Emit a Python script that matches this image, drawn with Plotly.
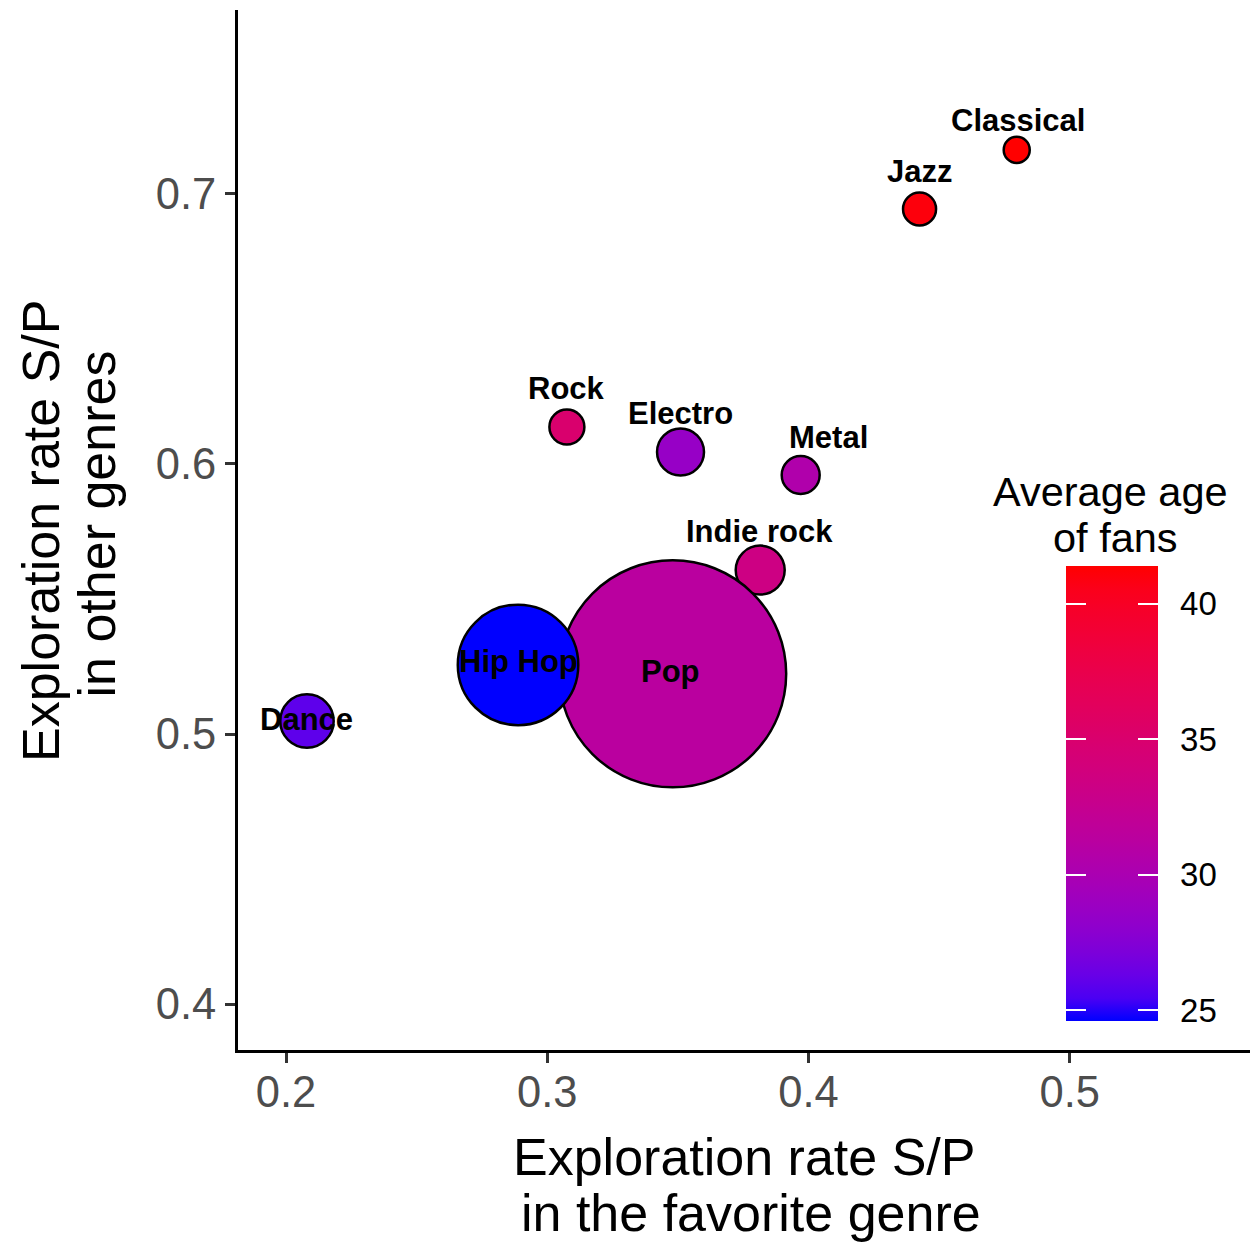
import plotly.graph_objects as go

# ---------------- data ----------------
genres = ["Classical", "Jazz", "Rock", "Electro", "Metal", "Indie rock", "Pop", "Hip Hop", "Dance"]
explore_fav = [0.4797, 0.4425, 0.3075, 0.3510, 0.3970, 0.3815, 0.3480, 0.2888, 0.2080]
explore_other = [0.7163, 0.6944, 0.6137, 0.6044, 0.5959, 0.5607, 0.5223, 0.5256, 0.5048]
avg_age = [41.4, 41.0, 35.0, 28.6, 30.5, 33.4, 31.3, 24.6, 26.0]
fan_share = [0.87, 1.40, 1.57, 2.83, 1.85, 3.08, 66.1, 18.63, 3.67]

x_ticks = [0.2, 0.3, 0.4, 0.5]
y_ticks = [0.4, 0.5, 0.6, 0.7]
age_ticks = [25, 30, 35, 40]

# ---------------- styling helpers ----------------
W, H = 1253, 1243
ML, MR, MT, MB = 238, 3, 10, 193
PW, PH = W - ML - MR, H - MT - MB
FONT = "Liberation Sans, Arial, Helvetica, sans-serif"


def _srgb_to_lin(c):
    c = c / 255.0
    return c / 12.92 if c <= 0.04045 else ((c + 0.055) / 1.055) ** 2.4


def _lin_to_srgb(c):
    c = max(0.0, min(1.0, c))
    v = 12.92 * c if c <= 0.0031308 else 1.055 * c ** (1 / 2.4) - 0.055
    return int(round(max(0, min(1, v)) * 255))


def rgb_to_lab(rgb):
    r, g, b = [_srgb_to_lin(v) for v in rgb]
    X = 0.4124 * r + 0.3576 * g + 0.1805 * b
    Y = 0.2126 * r + 0.7152 * g + 0.0722 * b
    Z = 0.0193 * r + 0.1192 * g + 0.9505 * b
    Xn, Yn, Zn = 0.95047, 1.0, 1.08883

    def f(t):
        return t ** (1 / 3) if t > 0.008856 else 7.787 * t + 16 / 116

    fx, fy, fz = f(X / Xn), f(Y / Yn), f(Z / Zn)
    return (116 * fy - 16, 500 * (fx - fy), 200 * (fy - fz))


def lab_to_rgb(lab):
    L, a, b = lab
    fy = (L + 16) / 116
    fx = fy + a / 500
    fz = fy - b / 200

    def finv(t):
        return t ** 3 if t ** 3 > 0.008856 else (t - 16 / 116) / 7.787

    X, Y, Z = 0.95047 * finv(fx), finv(fy), 1.08883 * finv(fz)
    r = 3.2406 * X - 1.5372 * Y - 0.4986 * Z
    g = -0.9689 * X + 1.8758 * Y + 0.0415 * Z
    bb = 0.0557 * X - 0.2040 * Y + 1.0570 * Z
    return (_lin_to_srgb(r), _lin_to_srgb(g), _lin_to_srgb(bb))


lab_lo = rgb_to_lab((0, 0, 255))
lab_hi = rgb_to_lab((255, 0, 0))
n_stops = 21
colorscale = []
for i in range(n_stops):
    t = i / (n_stops - 1)
    lab = tuple(lo + (hi - lo) * t for lo, hi in zip(lab_lo, lab_hi))
    r, g, b = lab_to_rgb(lab)
    colorscale.append([t, f"rgb({r},{g},{b})"])
clear_scale = [[0, "rgba(0,0,0,0)"], [1, "rgba(0,0,0,0)"]]

cmin, cmax = min(avg_age), max(avg_age)

max_d = 227.0
sizeref = 2.0 * max(fan_share) / (max_d ** 2)


def px_x(p):
    return (p - ML) / PW


def px_y(p):
    return (MT + PH - p) / PH


# colour bar geometry (pixels)
CB_LEFT, CB_THICK, CB_TOP, CB_LEN = 1066, 92, 566, 455
TICK_LEN = 20
cb_y = px_y(CB_TOP + CB_LEN / 2)


def colorbar(x_left, thick, show_labels, ticks, ticklen, tickcolor):
    return dict(
        thickness=thick, thicknessmode="pixels",
        len=CB_LEN, lenmode="pixels",
        x=px_x(x_left), xanchor="left",
        y=cb_y, yanchor="middle",
        xpad=0, ypad=0, outlinewidth=0,
        bgcolor="rgba(0,0,0,0)",
        tickvals=age_ticks,
        ticks=ticks, ticklen=ticklen, tickwidth=2, tickcolor=tickcolor,
        showticklabels=show_labels,
        tickfont=dict(family=FONT, size=33, color="black"),
    )


fig = go.Figure()
fig.add_trace(
    go.Scatter(
        x=explore_fav,
        y=explore_other,
        mode="markers",
        text=genres,
        marker=dict(
            size=fan_share,
            sizemode="area",
            sizeref=sizeref,
            color=avg_age,
            colorscale=colorscale,
            cmin=cmin,
            cmax=cmax,
            opacity=1,
            line=dict(color="black", width=2.5),
            colorbar=colorbar(CB_LEFT, CB_THICK, True, "outside", 16, "rgba(0,0,0,0)"),
        ),
        hoverinfo="text",
        showlegend=False,
    )
)
# transparent helper scales that only draw the white tick marks on the bar
for x_left, thick in [(CB_LEFT, CB_THICK), (CB_LEFT, TICK_LEN)]:
    fig.add_trace(
        go.Scatter(
            x=explore_fav, y=explore_other, mode="markers", hoverinfo="skip", showlegend=False,
            marker=dict(
                size=0, opacity=0, color=avg_age, colorscale=clear_scale, cmin=cmin, cmax=cmax,
                showscale=True,
                colorbar=colorbar(x_left, thick, False, "inside", TICK_LEN, "white"),
            ),
        )
    )

# label offsets (style): (xshift, yshift) in pixels
label_shift = {
    "Classical": (1, 29.5),
    "Jazz": (0, 38),
    "Rock": (0, 38),
    "Electro": (0, 38.5),
    "Metal": (27.5, 38),
    "Indie rock": (-1, 38.5),
    "Pop": (-2, 2),
    "Hip Hop": (0, 3),
    "Dance": (0, 2),
}

annotations = []
for g, xv, yv in zip(genres, explore_fav, explore_other):
    dx, dy = label_shift[g]
    annotations.append(
        dict(
            x=xv, y=yv, xref="x", yref="y", text=f"<b>{g}</b>", showarrow=False,
            xshift=dx, yshift=dy, xanchor="center", yanchor="middle",
            font=dict(family=FONT, size=31, color="black"),
        )
    )

# axis titles (two lines each)
title_font = dict(family=FONT, size=52, color="black")
annotations += [
    dict(x=px_x(743.5), y=px_y(1157), xref="paper", yref="paper",
         text="Exploration rate S/P", showarrow=False, xanchor="center", yanchor="middle", font=title_font),
    dict(x=px_x(751), y=px_y(1213), xref="paper", yref="paper",
         text="in the favorite genre", showarrow=False, xanchor="center", yanchor="middle", font=title_font),
    dict(x=px_x(41), y=px_y(531), xref="paper", yref="paper",
         text="Exploration rate S/P", showarrow=False, xanchor="center", yanchor="middle",
         textangle=-90, font=title_font),
    dict(x=px_x(96), y=px_y(524.5), xref="paper", yref="paper",
         text="in other genres", showarrow=False, xanchor="center", yanchor="middle",
         textangle=-90, font=title_font),
]

# colorbar title (two lines)
legend_title_font = dict(family=FONT, size=41.5, color="black")
annotations += [
    dict(x=px_x(1110), y=px_y(491), xref="paper", yref="paper",
         text="Average age", showarrow=False, xanchor="center", yanchor="middle", font=legend_title_font),
    dict(x=px_x(1115), y=px_y(537), xref="paper", yref="paper",
         text="of fans", showarrow=False, xanchor="center", yanchor="middle", font=legend_title_font),
]

axis_common = dict(
    showgrid=False, zeroline=False, showline=True, linecolor="black", linewidth=3,
    ticks="outside", ticklen=10, tickwidth=3, tickcolor="#333333",
    tickfont=dict(family=FONT, size=43.5, color="#4D4D4D"),
)

fig.update_layout(
    width=W, height=H,
    margin=dict(l=ML, r=MR, t=MT, b=MB, pad=0),
    paper_bgcolor="white", plot_bgcolor="white",
    xaxis=dict(range=[0.1816, 0.569], tickvals=x_ticks, ticktext=[str(v) for v in x_ticks],
               ticklabelstandoff=-8, **axis_common),
    yaxis=dict(range=[0.3830, 0.7681], tickvals=y_ticks, ticktext=[str(v) for v in y_ticks],
               ticklabelstandoff=0, **axis_common),
    annotations=annotations,
    font=dict(family=FONT),
)

fig.write_html(
    "out.html",
    config={"displayModeBar": False},
    post_script="document.body.style.margin='0';document.body.style.padding='0';",
)
